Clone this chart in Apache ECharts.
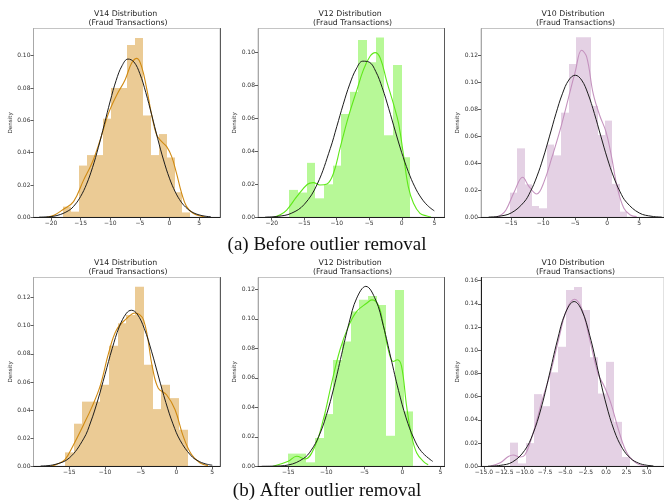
<!DOCTYPE html>
<html>
<head>
<meta charset="utf-8">
<script src="https://cdn.jsdelivr.net/npm/echarts@6/dist/echarts.min.js"></script>
<style>
  html, body { margin: 0; padding: 0; background: #fff; }
  #chart { width: 664px; height: 503px; }
</style>
</head>
<body>
<div id="chart"></div>
<script>
// ---------- histogram bin edges and densities ----------
const v14BeforeEdges = [-17.9, -16.56, -15.22, -13.88, -12.54, -11.2, -9.86, -8.52, -7.18, -5.84, -4.5, -3.16, -1.82, -0.48, 0.86, 2.2, 3.54];
const v14BeforeHeights = [0.0066, 0.0035, 0.032, 0.0385, 0.0385, 0.061, 0.08, 0.08, 0.1066, 0.111, 0.063, 0.0385, 0.0515, 0.037, 0.0155, 0.003];

const v12BeforeEdges = [-17.3, -15.97, -14.64, -13.31, -11.98, -10.65, -9.32, -7.99, -6.66, -5.33, -4.0, -2.67, -1.34, -0.01, 1.32];
const v12BeforeHeights = [0.0166, 0.015, 0.033, 0.0115, 0.020, 0.0313, 0.0626, 0.076, 0.1075, 0.094, 0.109, 0.0497, 0.0923, 0.0364];

const v10BeforeEdges = [-15.15, -14.01, -12.87, -11.73, -10.59, -9.45, -8.31, -7.16, -6.02, -4.88, -3.74, -2.6, -1.46, -0.32, 0.82, 1.96, 3.11];
const v10BeforeHeights = [0.0183, 0.0512, 0.0245, 0.0084, 0.0067, 0.054, 0.046, 0.0777, 0.1139, 0.1337, 0.1337, 0.0827, 0.0611, 0.0718, 0.0248, 0.0042];

const v14AfterEdges = [-15.6, -14.375, -13.15, -11.925, -10.7, -9.475, -8.25, -7.025, -5.8, -4.575, -3.35, -2.125, -0.9, 0.325, 1.55];
const v14AfterHeights = [0.0099, 0.0303, 0.046, 0.046, 0.058, 0.0857, 0.1018, 0.1077, 0.1278, 0.0722, 0.0407, 0.058, 0.0485, 0.026];

const v12AfterEdges = [-15, -13.83, -12.66, -11.49, -10.32, -9.15, -7.98, -6.81, -5.64, -4.47, -3.3, -2.13, -0.96, 0.21, 1.38];
const v12AfterHeights = [0.0086, 0.0086, 0.0027, 0.0192, 0.0354, 0.072, 0.0846, 0.105, 0.113, 0.1155, 0.1094, 0.0207, 0.1196, 0.0372];

const v10AfterEdges = [-11.8, -10.815, -9.83, -8.845, -7.86, -6.875, -5.89, -4.905, -3.92, -2.935, -1.95, -0.965, 0.02, 1.005, 1.99, 2.975];
const v10AfterHeights = [0.0204, 0.0025, 0.02, 0.0622, 0.0518, 0.081, 0.103, 0.152, 0.1545, 0.1347, 0.094, 0.0627, 0.09, 0.0383, 0.008];

// ---------- kernel density estimates [x, density] ----------
const v14BeforeKde = [[-20.7,0],[-19.5,0.0012],[-17.9,0.005],[-16.2,0.0097],[-14.5,0.023],[-13.1,0.0334],[-11.7,0.0478],[-10.3,0.0643],[-8.9,0.0757],[-7.5,0.085],[-6.4,0.0953],[-5.5,0.0983],[-4.7,0.0932],[-3.8,0.0788],[-3.0,0.0633],[-2.15,0.0509],[-1.3,0.0468],[-0.46,0.0437],[0.38,0.0375],[1.2,0.0272],[2.07,0.0148],[2.9,0.0066],[4.0,0.0025],[5.2,0.0008],[6.0,0.0002]];
const v12BeforeKde = [[-19.7,0],[-18.7,0.0015],[-17.7,0.0044],[-16.15,0.0125],[-14.5,0.02],[-13.6,0.021],[-12.6,0.0196],[-11.5,0.0202],[-10.5,0.0267],[-9.5,0.0418],[-8.2,0.061],[-6.9,0.0772],[-5.9,0.0893],[-4.9,0.0974],[-4.1,0.0998],[-3.3,0.0964],[-2.3,0.0822],[-1.3,0.069],[-0.5,0.057],[0.26,0.0378],[1.0,0.0186],[1.8,0.0085],[2.8,0.0024],[3.85,0.0008],[4.5,0.0002]];
const v10BeforeKde = [[-17.5,0],[-16.5,0.002],[-15.8,0.0054],[-14.5,0.019],[-13.2,0.0297],[-12.2,0.0228],[-11.0,0.0173],[-9.85,0.0265],[-8.6,0.045],[-7.35,0.0649],[-6.0,0.0896],[-5.0,0.108],[-4.0,0.124],[-3.2,0.119],[-2.2,0.092],[-1.2,0.076],[-0.2,0.0636],[0.57,0.0475],[1.6,0.0215],[2.6,0.0067],[3.6,0.0017],[4.6,0.0005]];
const v14AfterKde = [[-17.7,0],[-16.7,0.0015],[-15.6,0.0047],[-14.4,0.0154],[-13.0,0.0296],[-11.9,0.0414],[-10.7,0.0568],[-9.5,0.0805],[-8.4,0.097],[-7.0,0.105],[-5.8,0.109],[-4.6,0.104],[-3.35,0.0698],[-2.55,0.0556],[-1.4,0.0509],[-0.2,0.0402],[0.94,0.0213],[2.1,0.0083],[3.3,0.0024],[4.4,0.0005]];
const v12AfterKde = [[-17,0],[-15.0,0.0034],[-13.9,0.0068],[-12.8,0.005],[-11.5,0.0135],[-10.4,0.0316],[-9.3,0.0564],[-8.2,0.079],[-7.1,0.0947],[-6.0,0.105],[-4.7,0.1105],[-4.0,0.1128],[-3.16,0.1094],[-2.5,0.0959],[-1.84,0.079],[-1.18,0.0711],[-0.66,0.0722],[-0.1,0.0677],[0.57,0.0406],[1.23,0.0203],[1.9,0.009],[2.76,0.0034],[3.4,0.001]];
const v10AfterKde = [[-14.2,0.0003],[-13.0,0.003],[-12.0,0.0085],[-11.4,0.0098],[-10.6,0.008],[-10.0,0.0095],[-9.3,0.021],[-8.5,0.04],[-7.85,0.057],[-6.85,0.08],[-5.84,0.109],[-4.84,0.135],[-3.9,0.144],[-3.0,0.136],[-2.0,0.109],[-1.0,0.08],[-0.2,0.0685],[0.6,0.054],[1.6,0.0296],[2.6,0.011],[3.8,0.0023],[4.8,0.0003]];

// ---------- fitted normal curves [x, density] ----------
const v14BeforeFit = [[-22,0.0001],[-21,0.0002],[-19,0.0011],[-17,0.0042],[-16,0.0076],[-15,0.0129],[-14,0.0205],[-13,0.0307],[-12,0.0433],[-11,0.0575],[-10,0.0719],[-9,0.0847],[-8,0.0938],[-7,0.0979],[-6,0.0961],[-5,0.0889],[-4,0.0773],[-3,0.0634],[-2,0.0489],[-1,0.0355],[0,0.0242],[1,0.0156],[2,0.0094],[3,0.0054],[4,0.0029],[5,0.0015],[6,0.0007],[7,0.0003]];
const v12BeforeFit = [[-21,0.0001],[-19,0.0006],[-17,0.0024],[-15,0.0078],[-13,0.0201],[-11,0.0416],[-10,0.0549],[-9,0.0685],[-8,0.0807],[-7,0.0899],[-6,0.0946],[-5,0.094],[-4,0.0884],[-3,0.0785],[-2,0.0658],[-1,0.0522],[0,0.0391],[1,0.0277],[2,0.0185],[3,0.0117],[4,0.007],[5,0.0039]];
const v10BeforeFit = [[-18.5,0.0002],[-17,0.0007],[-15,0.0032],[-13,0.0112],[-12,0.019],[-11,0.030],[-10,0.044],[-9,0.0603],[-8,0.077],[-7,0.0917],[-6,0.1019],[-5,0.1055],[-4,0.1019],[-3,0.0917],[-2,0.077],[-1,0.0603],[0,0.044],[1,0.030],[2,0.019],[3,0.0112],[5,0.0032],[7,0.0007],[8.5,0.0002]];
const v14AfterFit = [[-19,0.0002],[-17,0.0013],[-15,0.0059],[-13,0.0195],[-12,0.0315],[-11,0.0472],[-10,0.0653],[-9,0.0837],[-8,0.0993],[-7,0.1089],[-6.3,0.111],[-5.5,0.1083],[-4.5,0.0979],[-3.5,0.0819],[-2.5,0.0635],[-1.5,0.0455],[-0.5,0.0302],[0.5,0.0185],[2,0.0077],[3,0.0039],[4,0.0018],[5,0.0008]];
const v12AfterFit = [[-18.5,0],[-17,0.0001],[-15,0.0009],[-13,0.0053],[-12,0.0108],[-11,0.0202],[-10,0.0345],[-9,0.0535],[-8,0.0756],[-7,0.0973],[-6,0.114],[-4.8,0.122],[-3.5,0.1127],[-2.5,0.0953],[-1.5,0.0733],[-0.5,0.0514],[0.5,0.0328],[1.5,0.0191],[2.5,0.0101],[4,0.0033]];
const v10AfterFit = [[-14.5,0.0001],[-13,0.0008],[-11.5,0.0037],[-10,0.0137],[-9,0.0277],[-8,0.0495],[-7,0.078],[-6,0.108],[-5,0.132],[-3.92,0.142],[-3,0.1346],[-2,0.1125],[-1,0.0828],[0,0.0537],[1,0.0307],[2,0.0155],[3,0.0069],[4,0.0027],[5,0.0009],[5.8,0.0004]];

// ---------- axis ticks ----------
const xTicksWide = [-20, -15, -10, -5, 0, 5];
const xTicksMid = [-15, -10, -5, 0, 5];
const xTicksFine = [-15, -12.5, -10, -7.5, -5, -2.5, 0, 2.5, 5];
const yTicksTo10 = [0, 0.02, 0.04, 0.06, 0.08, 0.10];
const yTicksTo12 = [0, 0.02, 0.04, 0.06, 0.08, 0.10, 0.12];
const yTicksTo16 = [0, 0.02, 0.04, 0.06, 0.08, 0.10, 0.12, 0.14, 0.16];

const titles = ['V14 Distribution \n (Fraud Transactions)', 'V12 Distribution \n (Fraud Transactions)', 'V10 Distribution \n (Fraud Transactions)'];
const captions = ['(a) Before outlier removal', '(b) After outlier removal'];

// ---------- styling ----------
const palettes = {
  gold:  { bar: 'rgba(210,140,20,0.45)', line: 'rgb(208,138,18)' },
  green: { bar: 'rgba(95,240,25,0.45)',  line: 'rgb(95,232,25)' },
  mauve: { bar: 'rgba(190,145,190,0.42)', line: 'rgb(196,146,190)' }
};

const colLeft = [33.5, 258, 481];
const rowTop = [28.5, 277.5];
const plotW = 186.5, plotH = 188.8;

const panels = [
  { row: 0, col: 0, edges: v14BeforeEdges, heights: v14BeforeHeights, kde: v14BeforeKde, fit: v14BeforeFit, pal: 'gold',  xMin: -22.96, xMax: 8.54, yMax: 0.1168, xTicks: xTicksWide, yTicks: yTicksTo10, xDec: 0 },
  { row: 0, col: 1, edges: v12BeforeEdges, heights: v12BeforeHeights, kde: v12BeforeKde, fit: v12BeforeFit, pal: 'green', xMin: -22.11, xMax: 6.57, yMax: 0.1144, xTicks: xTicksWide, yTicks: yTicksTo10, xDec: 0 },
  { row: 0, col: 2, edges: v10BeforeEdges, heights: v10BeforeHeights, kde: v10BeforeKde, fit: v10BeforeFit, pal: 'mauve', xMin: -19.7, xMax: 8.86, yMax: 0.1402, xTicks: xTicksMid, yTicks: yTicksTo12, xDec: 0 },
  { row: 1, col: 0, edges: v14AfterEdges, heights: v14AfterHeights, kde: v14AfterKde, fit: v14AfterFit, pal: 'gold',  xMin: -20.0, xMax: 6.08, yMax: 0.1343, xTicks: xTicksMid, yTicks: yTicksTo12, xDec: 0 },
  { row: 1, col: 1, edges: v12AfterEdges, heights: v12AfterHeights, kde: v12AfterKde, fit: v12AfterFit, pal: 'green', xMin: -18.99, xMax: 5.55, yMax: 0.128, xTicks: xTicksMid, yTicks: yTicksTo12, xDec: 0 },
  { row: 1, col: 2, edges: v10AfterEdges, heights: v10AfterHeights, kde: v10AfterKde, fit: v10AfterFit, pal: 'mauve', xMin: -15.36, xMax: 7.11, yMax: 0.1627, xTicks: xTicksFine, yTicks: yTicksTo16, xDec: 1, darkLeft: true }
];

const FONT = 'DejaVu Sans';
const minus = s => s.replace('-', '\u2212');

const option = {
  animation: false,
  backgroundColor: '#fff',
  grid: [], xAxis: [], yAxis: [], series: [], graphic: []
};

panels.forEach((p, i) => {
  const left = colLeft[p.col], top = rowTop[p.row];
  option.grid.push({
    left: left, top: top, width: plotW, height: plotH,
    show: true, borderColor: '#c4c4c4', borderWidth: 1, backgroundColor: 'transparent'
  });
  option.xAxis.push({
    type: 'value', gridIndex: i, min: p.xMin, max: p.xMax, z: 10,
    axisLine: { show: true, onZero: false, lineStyle: { color: '#1e1e1e', width: 1 } },
    axisTick: { show: true, customValues: p.xTicks, length: 3, lineStyle: { color: '#333', width: 0.8 } },
    axisLabel: {
      customValues: p.xTicks, fontSize: 6, fontFamily: FONT, color: '#333', margin: 3,
      formatter: v => minus(Number(v).toFixed(p.xDec))
    },
    splitLine: { show: false }
  });
  // left axis with ticks and labels
  option.yAxis.push({
    type: 'value', gridIndex: i, min: 0, max: p.yMax, z: 10,
    name: 'Density', nameLocation: 'middle', nameGap: 20,
    nameTextStyle: { fontSize: 5.6, fontFamily: FONT, color: '#333' },
    axisLine: { show: true, onZero: false, lineStyle: { color: p.darkLeft ? '#1e1e1e' : '#a8a8a8', width: 1 } },
    axisTick: { show: true, customValues: p.yTicks, length: 3, lineStyle: { color: '#333', width: 0.8 } },
    axisLabel: {
      customValues: p.yTicks, fontSize: 6, fontFamily: FONT, color: '#333', margin: 3,
      formatter: v => Number(v).toFixed(2)
    },
    splitLine: { show: false }
  });
  // right spine
  option.yAxis.push({
    type: 'value', gridIndex: i, min: 0, max: p.yMax, position: 'right', z: 10,
    axisLine: { show: true, onZero: false, lineStyle: { color: '#5a5a5a', width: 1 } },
    axisTick: { show: false }, axisLabel: { show: false }, splitLine: { show: false }
  });

  const pal = palettes[p.pal];
  const bins = p.heights.map((h, k) => [p.edges[k], p.edges[k + 1], h]);
  option.series.push({
    type: 'custom', xAxisIndex: i, yAxisIndex: 2 * i, silent: true, z: 1,
    data: bins,
    encode: { x: [0, 1], y: 2 },
    renderItem: (params, api) => {
      const a = api.coord([api.value(0), api.value(2)]);
      const b = api.coord([api.value(1), 0]);
      // snap the vertical bin edges to whole pixels so neighbouring bars join without seams
      const x0 = Math.round(a[0]), x1 = Math.round(b[0]);
      return {
        type: 'rect',
        shape: { x: x0, y: a[1], width: x1 - x0, height: b[1] - a[1] },
        style: { fill: pal.bar }
      };
    }
  });
  option.series.push({
    type: 'line', xAxisIndex: i, yAxisIndex: 2 * i, data: p.kde, smooth: 0.4,
    showSymbol: false, silent: true, z: 3,
    lineStyle: { color: pal.line, width: 1.1 }
  });
  option.series.push({
    type: 'line', xAxisIndex: i, yAxisIndex: 2 * i, data: p.fit, smooth: 0.4,
    showSymbol: false, silent: true, z: 4,
    lineStyle: { color: '#1c1c1c', width: 1 }
  });

  // two-line panel title
  option.graphic.push({
    type: 'text', x: left + plotW / 2, y: top - 19, silent: true,
    style: {
      text: titles[p.col], fontSize: 7.8, fontFamily: FONT, fill: '#262626',
      align: 'center', verticalAlign: 'top', lineHeight: 9.3
    }
  });
});

// sub-figure captions
const captionY = [245, 491];
captions.forEach((c, r) => {
  option.graphic.push({
    type: 'text', x: 327, y: captionY[r], silent: true,
    style: {
      text: c, fontSize: 19, fontFamily: 'Liberation Serif', fill: '#111',
      align: 'center', verticalAlign: 'middle'
    }
  });
});

const chart = echarts.init(document.getElementById('chart'), null, { renderer: 'canvas' });
chart.setOption(option);
</script>
</body>
</html>
